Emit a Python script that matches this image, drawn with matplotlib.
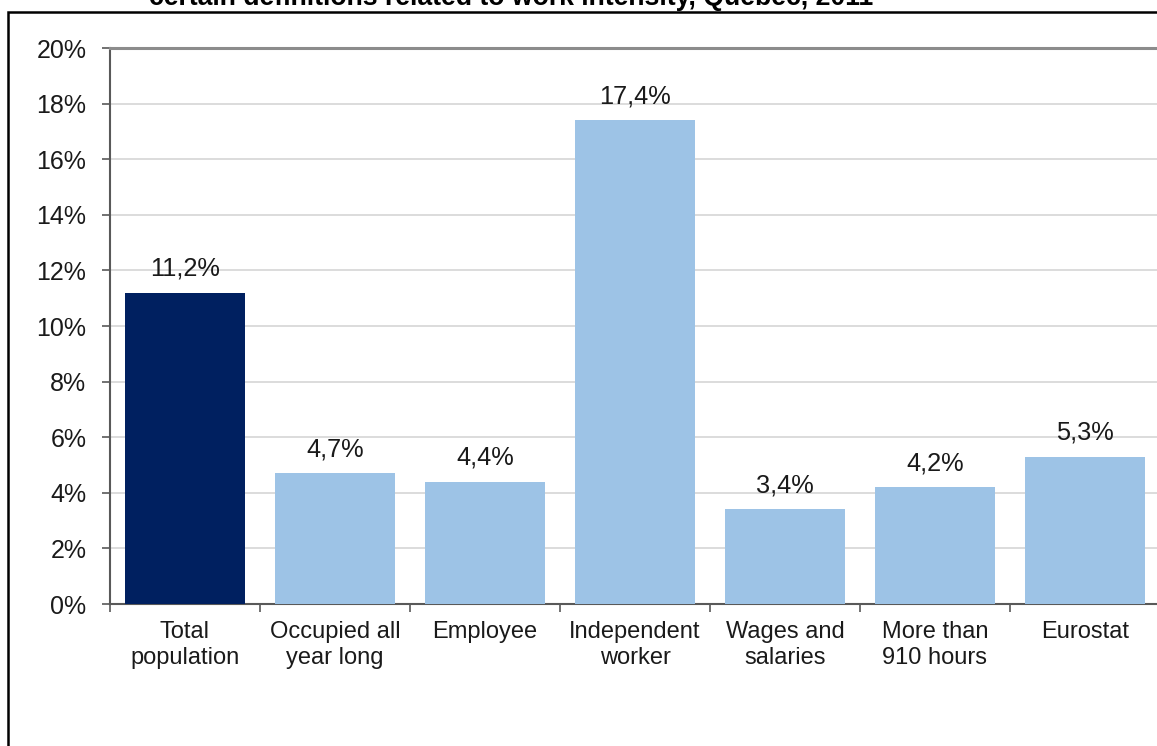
import matplotlib
matplotlib.use("Agg")
import matplotlib.pyplot as plt
from matplotlib.patches import Rectangle
import numpy as np

# Data: share of people in poverty by work-intensity definition, Québec 2011 (%)
categories = ["Total\npopulation", "Occupied all\nyear long", "Employee",
              "Independent\nworker", "Wages and\nsalaries", "More than\n910 hours",
              "Eurostat"]
values = [11.2, 4.7, 4.4, 17.4, 3.4, 4.2, 5.3]
value_labels = ["11,2%", "4,7%", "4,4%", "17,4%", "3,4%", "4,2%", "5,3%"]
yticks = [0, 2, 4, 6, 8, 10, 12, 14, 16, 18, 20]
title = "certain definitions related to work intensity, Québec, 2011"

plt.rcParams["font.family"] = ["Liberation Sans", "DejaVu Sans"]

W, H, DPI = 1157, 746, 100
fig = plt.figure(figsize=(W / DPI, H / DPI), dpi=DPI)
fig.patch.set_facecolor("white")

# outer chart frame
fig.patches.append(Rectangle((8 / W, -0.1), 1.2, 1 - 12 / H + 0.1,
                             transform=fig.transFigure, fill=False,
                             edgecolor="black", linewidth=1.8, zorder=0))

# title (partially above the visible area)
fig.text(511 / W, 1 - 5 / H, title, ha="center", va="baseline",
         fontsize=19.2, fontweight="bold", color="black")

left, right = 110 / W, 1160 / W
bottom, top = 1 - 604 / H, 1 - 48 / H
ax = fig.add_axes([left, bottom, right - left, top - bottom])

x = np.arange(len(categories))
colors = ["#002060"] + ["#9DC3E6"] * (len(categories) - 1)
ax.bar(x, values, width=0.8, color=colors, zorder=3)

for xi, v, lab in zip(x, values, value_labels):
    ax.annotate(lab, (xi, v), xytext=(0, 8.5), textcoords="offset points",
                ha="center", va="bottom", fontsize=18.3, color="#1a1a1a")

ax.set_xlim(-0.5, len(categories) - 0.5)
ax.set_ylim(0, 20)
ax.set_yticks(yticks)
ax.set_yticklabels([f"{t}%" for t in yticks])
ax.yaxis.grid(True, color="#D9D9D9", linewidth=1.3, zorder=0)
ax.set_axisbelow(True)

ax.set_xticks(x)
ax.set_xticklabels(categories, linespacing=1.25)
ax.set_xticks(np.arange(-0.5, len(categories) + 0.5, 1), minor=True)
ax.tick_params(axis="x", which="major", length=0, pad=12, labelsize=17,
               labelcolor="#1a1a1a")
ax.tick_params(axis="x", which="minor", length=6, width=1.2, color="#595959",
               direction="out")
ax.tick_params(axis="y", length=6, width=1.2, color="#595959", pad=11,
               labelsize=18, labelcolor="#1a1a1a")

for side in ("left", "bottom"):
    ax.spines[side].set_color("#595959")
    ax.spines[side].set_linewidth(1.5)
ax.spines["top"].set_color("#8C8C8C")
ax.spines["top"].set_linewidth(2.2)
ax.spines["right"].set_visible(False)

fig.savefig("out.png", dpi=DPI, facecolor="white")
